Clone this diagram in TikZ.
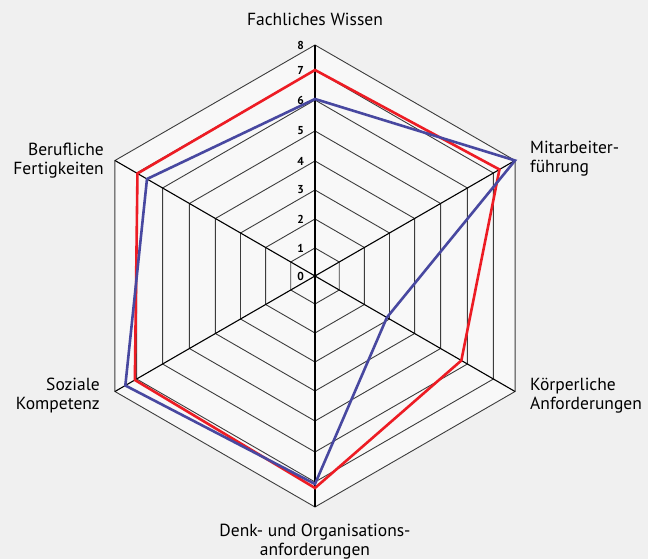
\documentclass[tikz,border=0pt]{standalone}
\usepackage{fontspec}
\setmainfont{PT Sans}
\usepackage{xcolor}
\definecolor{chartred}{RGB}{237,28,36}
\definecolor{chartblue}{RGB}{72,72,160}
\definecolor{chartbg}{RGB}{240,240,240}
\definecolor{chartfill}{RGB}{248,248,248}
\definecolor{ringgray}{RGB}{60,60,60}

\begin{document}
\begin{tikzpicture}[x=1pt, y=1pt,
  ring/.style={draw=ringgray, line width=0.9pt, line join=miter},
  spoke/.style={draw=black, line width=1.1pt},
  series/.style={line width=2.6pt, line join=miter},
  ticklabel/.style={anchor=east, inner sep=0pt, font=\fontsize{11.5}{11.5}\selectfont\bfseries},
  axislabel/.style={inner sep=0pt, font=\fontsize{17.5}{19}\selectfont}]

% Background
\fill[chartbg] (-315,-283) rectangle (333,276);
\useasboundingbox (-315,-283) rectangle (333,276);

% Corners
\coordinate (centre) at (0,0);
\coordinate (fw) at (90:231);
\coordinate (mf) at (30:231);
\coordinate (ka) at (-30:231);
\coordinate (do) at (-90:231);
\coordinate (sk) at (210:231);
\coordinate (bf) at (150:231);

% Rings
\fill[chartfill] (fw) -- (mf) -- (ka) -- (do) -- (sk) -- (bf) -- cycle;
\draw[ring] (90:28) -- (30:28) -- (-30:28) -- (-90:28) -- (210:28) -- (150:28) -- cycle;
\draw[ring] (90:57) -- (30:57) -- (-30:57) -- (-90:57) -- (210:57) -- (150:57) -- cycle;
\draw[ring] (90:86) -- (30:86) -- (-30:86) -- (-90:86) -- (210:86) -- (150:86) -- cycle;
\draw[ring] (90:115) -- (30:115) -- (-30:115) -- (-90:115) -- (210:115) -- (150:115) -- cycle;
\draw[ring] (90:145) -- (30:145) -- (-30:145) -- (-90:145) -- (210:145) -- (150:145) -- cycle;
\draw[ring] (90:176) -- (30:176) -- (-30:176) -- (-90:176) -- (210:176) -- (150:176) -- cycle;
\draw[ring] (90:206) -- (30:206) -- (-30:206) -- (-90:206) -- (210:206) -- (150:206) -- cycle;
\draw[ring] (fw) -- (mf) -- (ka) -- (do) -- (sk) -- (bf) -- cycle;

% Spokes
\draw[spoke] (centre) -- (fw);
\draw[spoke] (centre) -- (mf);
\draw[spoke] (centre) -- (ka);
\draw[spoke] (centre) -- (do);
\draw[spoke] (centre) -- (sk);
\draw[spoke] (centre) -- (bf);

% Scale
\node[ticklabel] (t0) at (-11,0) {0};
\node[ticklabel] (t1) at (-11,28) {1};
\node[ticklabel] (t2) at (-11,57) {2};
\node[ticklabel] (t3) at (-11,86) {3};
\node[ticklabel] (t4) at (-11,115) {4};
\node[ticklabel] (t5) at (-11,145) {5};
\node[ticklabel] (t6) at (-11,176) {6};
\node[ticklabel] (t7) at (-11,206) {7};
\node[ticklabel] (t8) at (-11,231) {8};

% Profiles
\draw[series, chartred] (90:206) -- (30:213) -- (-30:169) -- (-90:212) -- (210:208) -- (150:205) -- cycle;
\draw[series, chartblue] (90:177) -- (30:231) -- (-30:83) -- (-90:208) -- (210:219) -- (150:194) -- cycle;

% Axis labels
\node[axislabel, anchor=base] (fachlich) at (0,250) {Fachliches Wissen};
\node[axislabel, align=left, anchor=base west] (mitarbeiter) at (215,103) {Mitarbeiter-\\führung};
\node[axislabel, align=left, anchor=base west] (koerper) at (215,-134) {Körperliche\\Anforderungen};
\node[axislabel, align=center, anchor=base] (denk) at (0,-279) {Denk- und Organisations-\\anforderungen};
\node[axislabel, align=right, anchor=base east] (sozial) at (-215,-134) {Soziale\\Kompetenz};
\node[axislabel, align=right, anchor=base east] (beruf) at (-211,101) {Berufliche\\Fertigkeiten};
\end{tikzpicture}
\end{document}
